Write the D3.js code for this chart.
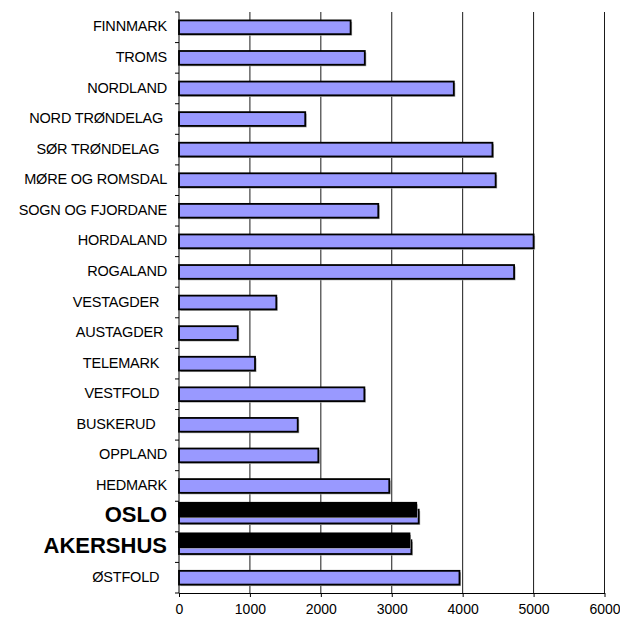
<!DOCTYPE html>
<html>
<head>
<meta charset="utf-8">
<script src="https://cdn.jsdelivr.net/npm/d3@7/dist/d3.min.js"></script>
<style>
  html, body { margin: 0; padding: 0; background: #fff; }
  svg { display: block; }
  text { font-family: "Liberation Sans", Arial, sans-serif; fill: #000; }
</style>
</head>
<body>
<svg id="chart" width="620" height="621"></svg>
<script>
// Counties, listed top to bottom (trailing spaces are part of the labels)
const counties = [
  "FINNMARK", "TROMS", "NORDLAND", "NORD TRØNDELAG\u00A0", "SØR TRØNDELAG\u00A0\u00A0",
  "MØRE OG ROMSDAL", "SOGN OG FJORDANE", "HORDALAND", "ROGALAND", "VESTAGDER\u00A0\u00A0",
  "AUSTAGDER\u00A0", "TELEMARK\u00A0\u00A0", "VESTFOLD\u00A0\u00A0", "BUSKERUD\u00A0\u00A0\u00A0", "OPPLAND",
  "HEDMARK", "OSLO", "AKERSHUS", "ØSTFOLD\u00A0\u00A0"
];

// First series (blue), one value per county
const seriesA = [
  2420, 2620, 3875, 1780, 4420,
  4465, 2810, 5000, 4725, 1372,
  828, 1072, 2614, 1674, 1965,
  2965, 3380, 3277, 3955
];

// Second series (black), only present for the capital region
const seriesB = [
  null, null, null, null, null,
  null, null, null, null, null,
  null, null, null, null, null,
  null, 3345, 3250, null
];

const xTicks = [0, 1000, 2000, 3000, 4000, 5000, 6000];

const rows = counties.map((name, i) => ({ name, a: seriesA[i], b: seriesB[i] }));

const svg = d3.select("#chart");
const plotL = 179, plotR = 604.5, plotT = 12, plotB = 593;

const x = d3.scaleLinear().domain([0, 6000]).range([plotL, plotR]);
const y = d3.scaleBand().domain(counties).range([plotT, plotB]).padding(0);
const barH = y.bandwidth() * 0.45;

// vertical gridlines
svg.append("g")
  .selectAll("line")
  .data(xTicks.filter(d => d > 0))
  .join("line")
  .attr("x1", d => x(d)).attr("x2", d => x(d))
  .attr("y1", plotT).attr("y2", plotB)
  .attr("stroke", "#1a1a1a").attr("stroke-width", 1);

const bars = svg.append("g");

// blue series: shadow, then bar
bars.selectAll("rect.sa")
  .data(rows)
  .join("rect")
  .attr("class", "sa")
  .attr("x", x(0) + 1.5)
  .attr("y", d => y(d.name) + (y.bandwidth() - barH) / 2 + 1.5)
  .attr("width", d => x(d.a) - x(0))
  .attr("height", barH)
  .attr("fill", "#a8a8a8");

bars.selectAll("rect.a")
  .data(rows)
  .join("rect")
  .attr("class", "a")
  .attr("x", x(0))
  .attr("y", d => y(d.name) + (y.bandwidth() - barH) / 2)
  .attr("width", d => x(d.a) - x(0))
  .attr("height", barH)
  .attr("fill", "#9999ff")
  .attr("stroke", "#000")
  .attr("stroke-width", 1.8);

// black series, overlapping the upper half of the blue bar
const rowsB = rows.filter(d => d.b != null);
bars.selectAll("rect.sb")
  .data(rowsB)
  .join("rect")
  .attr("class", "sb")
  .attr("x", x(0) + 1.5)
  .attr("y", d => y(d.name) + (y.bandwidth() - barH) / 2 - barH / 2 + 1.5)
  .attr("width", d => x(d.b) - x(0))
  .attr("height", barH)
  .attr("fill", "#a8a8a8");

bars.selectAll("rect.b")
  .data(rowsB)
  .join("rect")
  .attr("class", "b")
  .attr("x", x(0))
  .attr("y", d => y(d.name) + (y.bandwidth() - barH) / 2 - barH / 2)
  .attr("width", d => x(d.b) - x(0))
  .attr("height", barH)
  .attr("fill", "#000")
  .attr("stroke", "#000")
  .attr("stroke-width", 1.8);

// category axis: line plus ticks at band boundaries
const yAxis = svg.append("g");
yAxis.append("line")
  .attr("x1", x(0)).attr("x2", x(0))
  .attr("y1", plotT).attr("y2", plotB)
  .attr("stroke", "#000").attr("stroke-width", 1);
yAxis.selectAll("line.tick")
  .data(counties.map(c => y(c)).concat([y.range()[1]]))
  .join("line")
  .attr("class", "tick")
  .attr("x1", x(0) - 4).attr("x2", x(0))
  .attr("y1", d => d).attr("y2", d => d)
  .attr("stroke", "#000").attr("stroke-width", 1);

// county labels; the capital region is set large and bold
yAxis.selectAll("text")
  .data(rows)
  .join("text")
  .attr("x", 167)
  .attr("y", d => y(d.name) + y.bandwidth() / 2 - (d.b != null ? 2 : 1))
  .attr("dy", "0.35em")
  .attr("text-anchor", "end")
  .style("font-size", d => d.b != null ? "22px" : "14.5px")
  .style("font-weight", d => d.b != null ? "bold" : "normal")
  .style("letter-spacing", d => d.b != null ? "0px" : "-0.2px")
  .text(d => d.name);

// value axis
const xAxis = svg.append("g")
  .attr("transform", `translate(0,${plotB})`)
  .call(d3.axisBottom(x).tickValues(xTicks).tickFormat(d3.format("d"))
    .tickSize(4).tickSizeOuter(0).tickPadding(7));
xAxis.select(".domain").attr("stroke", "#000");
xAxis.selectAll(".tick line").attr("stroke", "#000");
xAxis.selectAll(".tick text")
  .style("font-size", "14px")
  .style("font-family", "'Liberation Sans', Arial, sans-serif")
  .attr("fill", "#000");
</script>
</body>
</html>
